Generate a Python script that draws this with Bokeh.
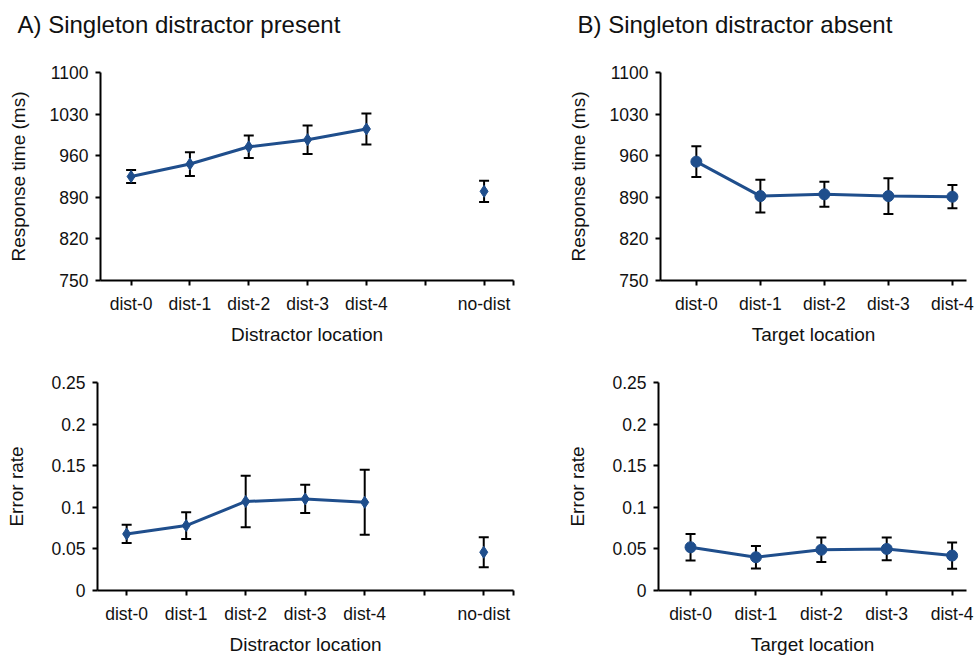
from bokeh.plotting import figure
from bokeh.models import (Range1d, FixedTicker, Whisker, TeeHead, ColumnDataSource,
                          NumeralTickFormatter, Title)
from bokeh.layouts import row, column
from bokeh.embed import file_html
from bokeh.resources import INLINE

# ---------------- data ----------------
locations = ["dist-0", "dist-1", "dist-2", "dist-3", "dist-4"]
no_dist_label = "no-dist"

rt_present = [925, 946, 975, 987, 1005]
rt_present_err = [11, 20, 19, 24, 26]
rt_nodist = [900]
rt_nodist_err = [18]

rt_absent = [950, 892, 895, 892, 891]
rt_absent_err = [26, 27.5, 21, 30, 19.5]

er_present = [0.068, 0.078, 0.107, 0.110, 0.106]
er_present_err = [0.011, 0.016, 0.031, 0.017, 0.039]
er_nodist = [0.046]
er_nodist_err = [0.018]

er_absent = [0.052, 0.040, 0.049, 0.050, 0.042]
er_absent_err = [0.016, 0.0135, 0.0147, 0.0137, 0.0158]

rt_ticks = [750, 820, 890, 960, 1030, 1100]
er_ticks = [0, 0.05, 0.1, 0.15, 0.2, 0.25]

# ---------------- style ----------------
BLUE = "#1f4e8c"
FONT = "Liberation Sans"
TXT = "#111111"


def style_axes(p, ylabel, xlabel, y_std):
    for ax in (p.xaxis[0], p.yaxis[0]):
        ax.axis_line_color = "black"
        ax.axis_line_width = 2
        ax.major_tick_line_color = "black"
        ax.major_tick_line_width = 2
        ax.major_tick_out = 5
        ax.major_tick_in = 0
        ax.minor_tick_line_color = None
        ax.major_label_text_font = FONT
        ax.major_label_text_font_size = "17.5px"
        ax.major_label_text_color = TXT
        ax.axis_label_text_font = FONT
        ax.axis_label_text_font_size = "19px"
        ax.axis_label_text_font_style = "normal"
        ax.axis_label_text_color = TXT
    p.yaxis.axis_label = ylabel
    p.xaxis.axis_label = xlabel
    p.yaxis.major_label_standoff = 7
    p.yaxis.axis_label_standoff = y_std
    p.xaxis.major_label_standoff = 8
    p.xaxis.axis_label_standoff = 7
    p.grid.visible = False
    p.outline_line_color = None


def make_panel(vals, errs, extra_val, extra_err, marker, msize, y_range, y_ticks,
               ylabel, xlabel, x_range, width, height, borders, title, y_std,
               y_fmt=None):
    bl, br, bt, bb = borders
    p = figure(width=width, height=height, output_backend="svg", toolbar_location=None,
               x_range=Range1d(*x_range), y_range=Range1d(*y_range),
               min_border_left=bl, min_border_right=br, min_border_top=bt,
               min_border_bottom=bb, background_fill_color="white",
               border_fill_color="white")
    xs = list(range(len(locations)))
    ticks = list(xs)
    overrides = {i: lab for i, lab in enumerate(locations)}
    all_x = list(xs)
    all_v = list(vals)
    all_e = list(errs)
    if extra_val is not None:
        nx = len(locations) + 1
        ticks += [len(locations), nx, nx + 0.5]
        overrides[len(locations)] = ""
        overrides[nx] = no_dist_label
        overrides[nx + 0.5] = ""
        all_x += [nx]
        all_v += list(extra_val)
        all_e += list(extra_err)
    p.xaxis.ticker = FixedTicker(ticks=ticks)
    p.xaxis.major_label_overrides = overrides
    p.yaxis.ticker = FixedTicker(ticks=y_ticks)
    if y_fmt is not None:
        p.yaxis.formatter = y_fmt
    style_axes(p, ylabel, xlabel, y_std)

    src = ColumnDataSource(dict(x=all_x, v=all_v,
                                lo=[v - e for v, e in zip(all_v, all_e)],
                                hi=[v + e for v, e in zip(all_v, all_e)]))
    w = Whisker(base="x", lower="lo", upper="hi", source=src, line_color="black",
                line_width=2, level="underlay",
                upper_head=TeeHead(size=10, line_width=2, line_color="black"),
                lower_head=TeeHead(size=10, line_width=2, line_color="black"))
    p.add_layout(w)
    p.line(xs, vals, line_color=BLUE, line_width=3)
    p.scatter("x", "v", source=src, marker=marker, size=msize, color=BLUE)

    if title:
        # spacer keeps the panel title well above the plot area
        spacer = Title(text=" ", text_font_size="10px", standoff=17,
                       text_font=FONT)
        p.add_layout(spacer, "above")
        p.title.text = title
        p.title.align = "left"
        p.title.offset = -83
        p.title.text_font = FONT
        p.title.text_font_size = "24px"
        p.title.text_font_style = "normal"
        p.title.text_color = TXT
        p.title.standoff = 10
    return p


tl = make_panel(rt_present, rt_present_err, rt_nodist, rt_nodist_err, "diamond", 12,
                (750, 1100), rt_ticks, "Response time (ms)", "Distractor location",
                (-0.52, 6.5), 560, 352, (100, 47, 72, 72),
                "A) Singleton distractor present", 18)
tr = make_panel(rt_absent, rt_absent_err, None, None, "circle", 11,
                (750, 1100), rt_ticks, "Response time (ms)", "Target location",
                (-0.56, 4.22), 414, 352, (100, 8, 72, 72),
                "B) Singleton distractor absent", 18)
bl = make_panel(er_present, er_present_err, er_nodist, er_nodist_err, "diamond", 12,
                (0, 0.25), er_ticks, "Error rate", "Distractor location",
                (-0.49, 6.5), 560, 305, (97, 47, 30, 67), None, 21,
                NumeralTickFormatter(format="0.[00]"))
br = make_panel(er_absent, er_absent_err, None, None, "circle", 11,
                (0, 0.25), er_ticks, "Error rate", "Target location",
                (-0.49, 4.22), 414, 305, (98, 8, 30, 67), None, 21,
                NumeralTickFormatter(format="0.[00]"))

layout = column(row(tl, tr), row(bl, br))
open("out.html", "w").write(file_html(layout, INLINE))
